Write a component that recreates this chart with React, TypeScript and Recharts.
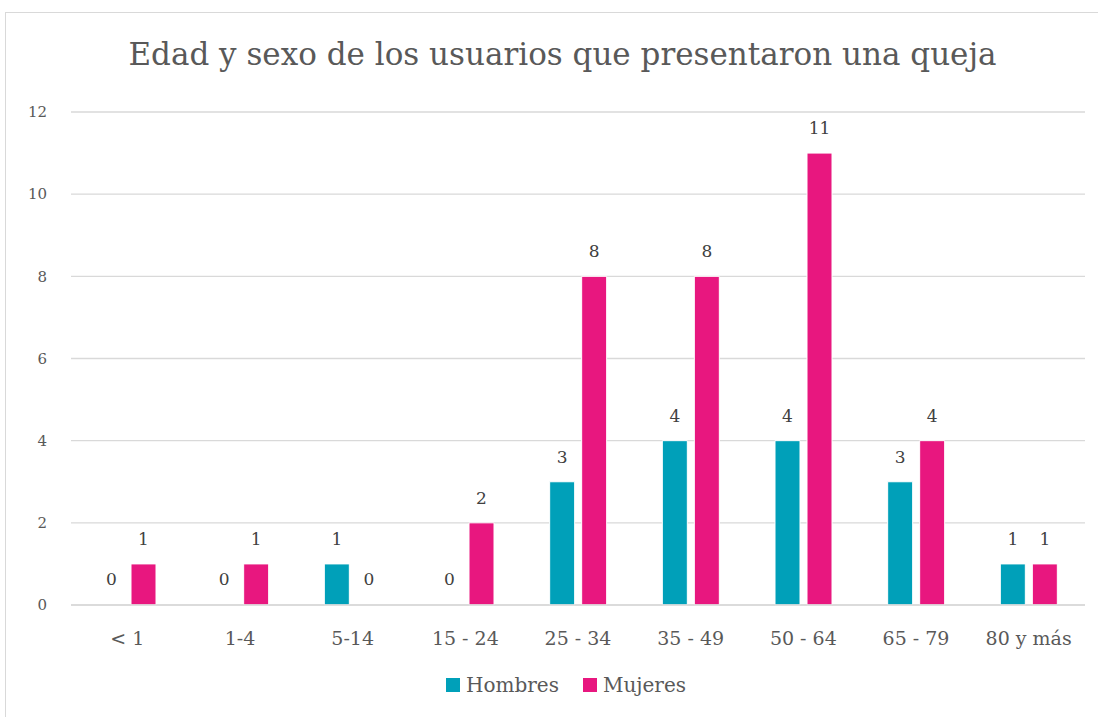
import React from "react"
import {
  BarChart, Bar, XAxis, YAxis, CartesianGrid, Legend, LabelList, Rectangle,
} from "recharts"

// datos
const categorias = ["< 1", "1-4", "5-14", "15 - 24", "25 - 34", "35 - 49", "50 - 64", "65 - 79", "80 y más"]
const hombres = [0, 0, 1, 0, 3, 4, 4, 3, 1]
const mujeres = [1, 1, 0, 2, 8, 8, 11, 4, 1]
const yTicks = [0, 2, 4, 6, 8, 10, 12]

const TEAL = "#00A0B9"
const PINK = "#E8177F"
const FONT = "'DejaVu Serif', 'Liberation Serif', serif"

const data = categorias.map((c, i) => ({ cat: c, Hombres: hombres[i], Mujeres: mujeres[i] }))

// etiqueta propia para que también salga el 0
const ValueLabel = (props: any) => {
  const { x, y, width, value } = props
  return (
    <text x={x + width / 2} y={y - 19} textAnchor="middle" fill="#404040" fontSize={17} fontFamily={FONT}>
      {value}
    </text>
  )
}

// con minPointSize las barras en 0 existen (para la etiqueta) pero no se pintan
const BarShape = (props: any) => {
  if (!props.value) return null
  return <Rectangle {...props} />
}

function LegendBox() {
  const items = [
    { name: "Hombres", color: TEAL },
    { name: "Mujeres", color: PINK },
  ]
  return (
    <div style={{ display: "flex", alignItems: "center", gap: 24, fontFamily: FONT, fontSize: 20, color: "#595959" }}>
      {items.map(it => (
        <div key={it.name} style={{ display: "flex", alignItems: "center", gap: 6 }}>
          <span style={{ width: 14, height: 14, background: it.color, display: "inline-block" }} />
          <span>{it.name}</span>
        </div>
      ))}
    </div>
  )
}

export default function App() {
  return (
    <div style={{ position: "absolute", left: 0, top: 0, width: 1098, height: 717, background: "#fff", overflow: "hidden" }}>
      <div style={{ position: "absolute", left: 5, top: 12, width: 1100, height: 720, border: "1px solid #d9d9d9" }} />
      <div style={{
        position: "absolute", left: 0, top: 36, width: 1125, textAlign: "center",
        fontFamily: FONT, fontSize: 31, color: "#595959",
      }}>
        Edad y sexo de los usuarios que presentaron una queja
      </div>
      <div style={{ position: "absolute", left: 0, top: 0 }}>
        <BarChart
          width={1098}
          height={717}
          data={data}
          margin={{ top: 112, right: 13, left: 0, bottom: 48 }}
          barSize={25}
          barGap={7}
        >
          <CartesianGrid vertical={false} stroke="#d9d9d9" strokeWidth={1.3} />
          <XAxis
            dataKey="cat"
            height={40}
            tickLine={false}
            axisLine={{ stroke: "#d9d9d9", strokeWidth: 1.3 }}
            tickMargin={21}
            tick={{ fill: "#595959", fontSize: 19, fontFamily: FONT }}
            interval={0}
          />
          <YAxis
            width={71}
            domain={[0, 12]}
            ticks={yTicks}
            tickLine={false}
            axisLine={false}
            tickMargin={18}
            tick={{ fill: "#595959", fontSize: 15, fontFamily: FONT }}
          />
          <Legend
            content={() => <LegendBox />}
            wrapperStyle={{ position: "absolute", left: 446, top: 673, width: "auto" }}
          />
          <Bar dataKey="Hombres" fill={TEAL} stroke="#fff" strokeWidth={1} minPointSize={1} shape={BarShape} isAnimationActive={false}>
            <LabelList dataKey="Hombres" content={ValueLabel} />
          </Bar>
          <Bar dataKey="Mujeres" fill={PINK} stroke="#fff" strokeWidth={1} minPointSize={1} shape={BarShape} isAnimationActive={false}>
            <LabelList dataKey="Mujeres" content={ValueLabel} />
          </Bar>
        </BarChart>
      </div>
    </div>
  )
}
